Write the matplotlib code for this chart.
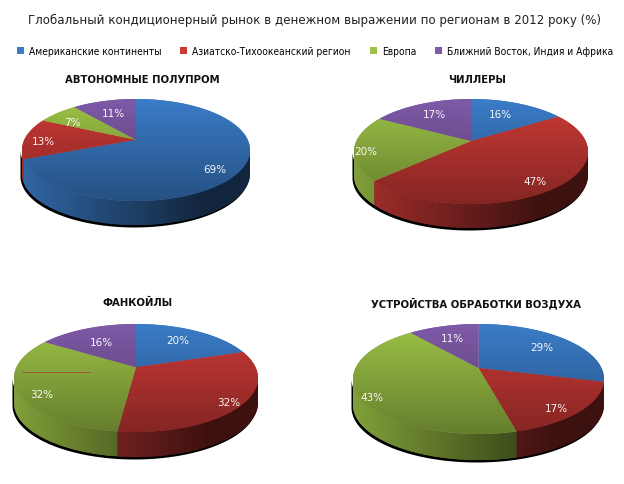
import numpy as np
import matplotlib
matplotlib.use('Agg')
import matplotlib.pyplot as plt
from matplotlib.colors import to_rgb
from matplotlib.patches import Patch, Polygon

TITLE = 'Глобальный кондиционерный рынок в денежном выражении по регионам в 2012 року (%)'
REGIONS = ['Американские континенты', 'Азиатско-Тихоокеанский регион', 'Европа',
           'Ближний Восток, Индия и Африка']
PIE_TITLES = ['АВТОНОМНЫЕ ПОЛУПРОМ', 'ЧИЛЛЕРЫ', 'ФАНКОЙЛЫ', 'УСТРОЙСТВА ОБРАБОТКИ ВОЗДУХА']
AUTONOMOUS = [69, 13, 7, 11]
CHILLERS = [16, 47, 20, 17]
FANCOILS = [20, 32, 32, 16]
AIR_HANDLING = [29, 17, 43, 11]

COLORS = ['#3b7cc8', '#cc3a36', '#9dc246', '#7f5aa8']
FONT = ['DejaVu Sans']

# left, right, top, bottom of top face, wall height (px)
LAYOUT = [(22, 250, 100, 202, 24),
          (354, 588, 100, 205, 24),
          (14, 258, 325, 433, 25),
          (353, 604, 325, 435, 26)]
TITLE_POS = [(142, 80), (477, 80), (138, 303), (476, 303)]
# label nudges from the default spot (px)
LABEL_NUDGE = [[(-2, 5), (-4, 2), (1, 4), (4, 5)],
               [(-9, 4), (0, 4), (-12, 5), (4, 4)],
               [(-8, 3), (11, 5), (-1, 8), (6, 7)],
               [(-7, 3), (-1, 6), (-12, 8), (3, 5)]]
K = 0.2  # perspective


def make_projection(left, right, top, bottom):
    cx = (left + right) / 2
    sx = (right - left) / 2 * np.sqrt(1 - K ** 2)
    sy = (bottom - top) / (1 / (1 + K) + 1 / (1 - K))
    apex = top + sy / (1 + K)

    def project(theta, r=1.0):
        x = r * np.sin(theta)
        y = r * np.cos(theta)
        w = 1 + K * y
        return cx + sx * x / w, apex - sy * y / w
    return project, cx, apex


def shaded(ax, pts, color, factors, horizontal, zorder):
    # gradient fill clipped to polygon
    base = np.array(to_rgb(color))
    patch = Polygon(pts, closed=True, facecolor=base * factors.mean(), edgecolor='none', zorder=zorder)
    ax.add_patch(patch)
    xmin, ymin = pts.min(axis=0)
    xmax, ymax = pts.max(axis=0)
    grad = factors[:, None] * base
    grad = grad[None, :, :] if horizontal else grad[:, None, :]
    im = ax.imshow(grad, extent=(xmin, xmax, ymax, ymin), aspect='auto', zorder=zorder + 0.1)
    im.set_clip_path(patch)


def draw_pie(ax, values, layout, nudges):
    left, right, top, bottom, wall = layout
    project, cx, apex = make_projection(left, right, top, bottom)
    values = np.array(values, dtype=float)
    edges = np.r_[0, np.cumsum(values)] / values.sum() * 2 * np.pi
    vis0 = np.arccos(-K)
    vis1 = 2 * np.pi - vis0

    # black shadow under the wall
    th = np.linspace(vis0, vis1, 200)
    px, py = project(th)
    shadow = np.c_[np.r_[px - 1.5, (px - 1.5)[::-1]], np.r_[py, (py + wall + 2.5)[::-1]]]
    ax.add_patch(Polygon(shadow, closed=True, facecolor='black', edgecolor='none', zorder=1))

    for i, color in enumerate(COLORS):
        t0, t1 = edges[i], edges[i + 1]
        # side wall
        a, b = max(t0, vis0), min(t1, vis1)
        if b > a:
            th = np.linspace(a, b, 100)
            px, py = project(th)
            pts = np.c_[np.r_[px, px[::-1]], np.r_[py, (py + wall)[::-1]]]
            frac = (np.linspace(px.min(), px.max(), 64) - left) / (right - left)
            shaded(ax, pts, color, np.clip(0.82 - 0.65 * frac, 0.3, 1), True, 2)
        # top face
        th = np.linspace(t0, t1, 200)
        px, py = project(th)
        pts = np.c_[np.r_[cx, px], np.r_[apex, py]]
        frac = (np.linspace(pts[:, 1].min(), pts[:, 1].max(), 64) - top) / (bottom - top)
        shaded(ax, pts, color, 1.0 - 0.35 * frac, False, 3)
        # percent label
        lx, ly = project((t0 + t1) / 2, 0.8)
        ax.text(lx + nudges[i][0], ly + nudges[i][1], f'{values[i]:.0f}%', color='white', fontsize=7.5,
                ha='center', va='center', zorder=5, family=FONT, alpha=0.95)


fig = plt.figure(figsize=(6.24, 4.85), dpi=100)
ax = fig.add_axes([0, 0, 1, 1])

for vals, layout, nudges in zip([AUTONOMOUS, CHILLERS, FANCOILS, AIR_HANDLING], LAYOUT, LABEL_NUDGE):
    draw_pie(ax, vals, layout, nudges)

# thin stray line across the green slice of the third pie
ax.plot([22, 90], [373, 373], color='#a8503a', linewidth=0.6, zorder=4)

ax.set_xlim(0, 624)
ax.set_ylim(485, 0)
ax.axis('off')

ax.text(315, 20, TITLE, ha='center', va='center', fontsize=9.45, color='#222222', family=FONT,
        stretch='condensed')
for name, (x, y) in zip(PIE_TITLES, TITLE_POS):
    ax.text(x, y, name, ha='center', va='center', fontsize=7.3, fontweight='bold',
            color='#111111', family=FONT)

handles = [Patch(facecolor=c, label=r) for c, r in zip(COLORS, REGIONS)]
fig.legend(handles=handles, loc='center', bbox_to_anchor=(0.505, 0.892), ncols=4, frameon=False,
           prop={'family': FONT, 'stretch': 'condensed', 'size': 7.3},
           handlelength=0.68, handleheight=0.68, handletextpad=0.5, columnspacing=1.85)

fig.savefig('out.png', dpi=100)
